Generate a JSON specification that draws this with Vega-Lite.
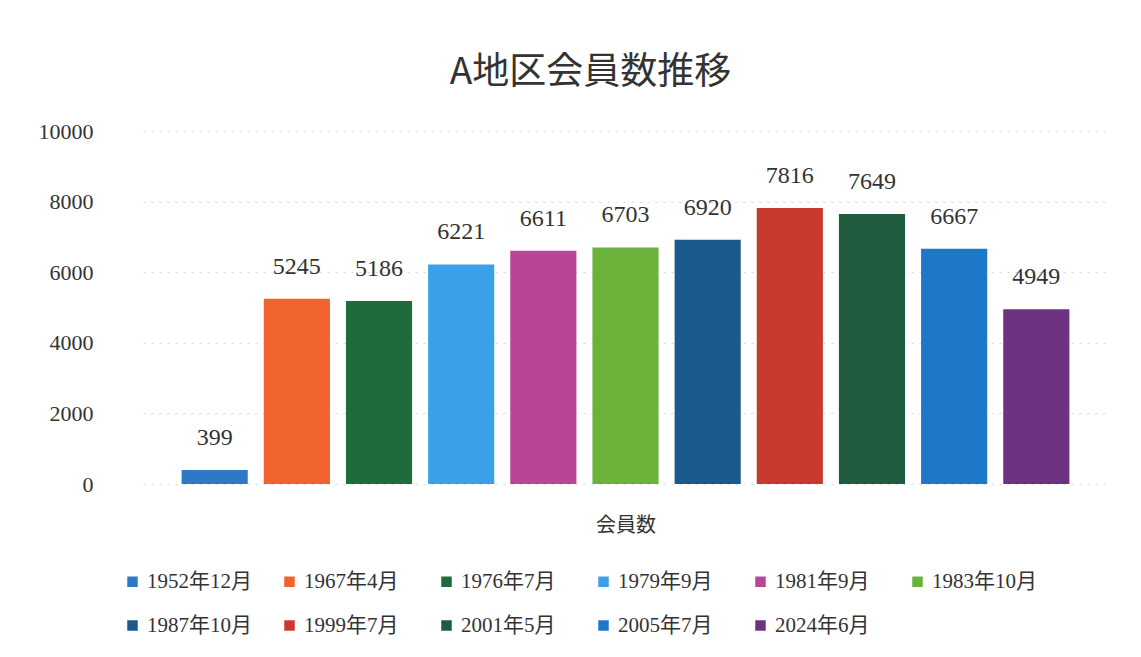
{
  "$schema": "https://vega.github.io/schema/vega-lite/v6.json",
  "width": 965,
  "height": 353,
  "padding": {"left": 38, "top": 54, "right": 10, "bottom": 5},
  "background": "white",
  "title": {
    "text": "A地区会員数推移",
    "font": "Noto Sans CJK JP",
    "fontSize": 37,
    "fontWeight": "normal",
    "color": "#333333",
    "anchor": "middle",
    "frame": "group",
    "dx": -35,
    "offset": 28
  },
  "data": {
    "values": [
      {"時点": "1952年12月", "会員数": 399},
      {"時点": "1967年4月", "会員数": 5245},
      {"時点": "1976年7月", "会員数": 5186},
      {"時点": "1979年9月", "会員数": 6221},
      {"時点": "1981年9月", "会員数": 6611},
      {"時点": "1983年10月", "会員数": 6703},
      {"時点": "1987年10月", "会員数": 6920},
      {"時点": "1999年7月", "会員数": 7816},
      {"時点": "2001年5月", "会員数": 7649},
      {"時点": "2005年7月", "会員数": 6667},
      {"時点": "2024年6月", "会員数": 4949}
    ]
  },
  "encoding": {
    "x": {
      "field": "時点",
      "type": "nominal",
      "sort": null,
      "scale": {"paddingInner": 0.195, "paddingOuter": 0.47},
      "axis": {
        "labels": false,
        "ticks": false,
        "domain": false,
        "title": "会員数",
        "titleFont": "Noto Sans CJK JP",
        "titleFontSize": 20,
        "titleFontWeight": "normal",
        "titleColor": "#333333",
        "titlePadding": 31
      }
    },
    "y": {
      "field": "会員数",
      "type": "quantitative",
      "scale": {"domain": [0, 10000]},
      "axis": {
        "values": [0, 2000, 4000, 6000, 8000, 10000],
        "format": "d",
        "title": null,
        "domain": false,
        "ticks": false,
        "labelFont": "Liberation Serif",
        "labelFontSize": 22,
        "labelColor": "#333333",
        "labelPadding": 50,
        "gridColor": "#d8d8d8",
        "gridDash": [2, 6],
        "gridWidth": 1
      }
    }
  },
  "layer": [
    {
      "mark": {"type": "bar"},
      "encoding": {
        "color": {
          "field": "時点",
          "type": "nominal",
          "sort": null,
          "scale": {
            "domain": ["1952年12月", "1967年4月", "1976年7月", "1979年9月", "1981年9月", "1983年10月", "1987年10月", "1999年7月", "2001年5月", "2005年7月", "2024年6月"],
            "range": ["#2f78c4", "#f0622e", "#1e6b3c", "#3aa0e8", "#b84597", "#6ab23a", "#1b5a8c", "#c8392e", "#1f5c3e", "#1e78c8", "#6e3380"]
          },
          "legend": {
            "title": null,
            "orient": "none",
            "direction": "horizontal",
            "columns": 6,
            "gridAlign": "all",
            "legendX": -21,
            "legendY": 440,
            "symbolType": "square",
            "symbolSize": 110,
            "symbolStrokeWidth": 0,
            "labelFont": "Liberation Serif, Noto Sans CJK JP",
            "labelFontSize": 21,
            "labelColor": "#333333",
            "labelLimit": 300,
            "labelOffset": 4,
            "columnPadding": 27,
            "rowPadding": 22
          }
        }
      }
    },
    {
      "mark": {
        "type": "text",
        "baseline": "middle",
        "dy": -32,
        "font": "Liberation Serif",
        "fontSize": 24,
        "color": "#333333"
      },
      "encoding": {
        "text": {"field": "会員数", "type": "quantitative"}
      }
    }
  ],
  "config": {
    "view": {"stroke": null}
  }
}
